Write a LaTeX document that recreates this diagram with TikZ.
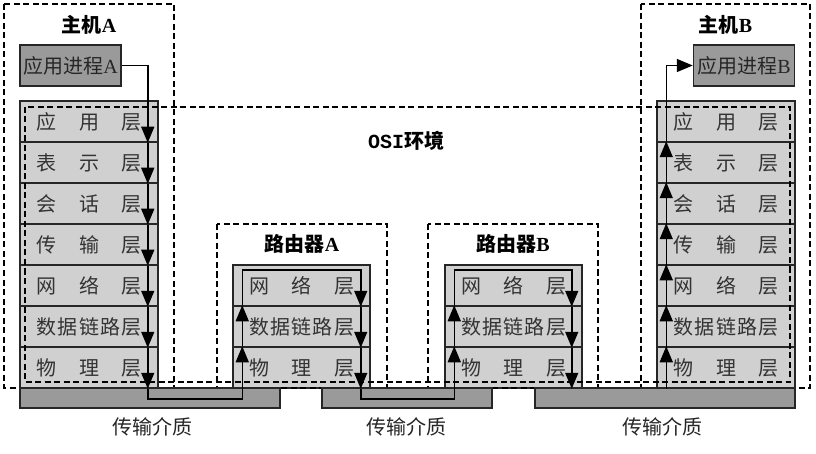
\documentclass[tikz,border=0pt]{standalone}
\usepackage{fontspec}
\setmainfont{Liberation Serif}
\newfontfamily\cjk{Noto Sans CJK SC}
\newfontfamily\osimono{Liberation Mono}
\usetikzlibrary{arrows.meta,calc}
\definecolor{lgray}{HTML}{D0D0D0}
\definecolor{dgray}{HTML}{9A9A9A}
\newcommand\spreadthree[3]{\makebox[105pt][s]{#1\hfill#2\hfill#3}}
\newcommand\spreadfive[5]{\makebox[105pt][s]{#1\hfill#2\hfill#3\hfill#4\hfill#5}}
\tikzset{
  layer/.style={draw=black!85, line width=1.5pt, fill=lgray, minimum width=138pt, minimum height=41pt, inner sep=0pt, font=\cjk\fontsize{20}{20}\selectfont, text=black!80},
  rlayer/.style={layer, minimum width=137pt},
  proc/.style={draw=black!85, line width=1.5pt, fill=dgray, minimum width=101pt, minimum height=41pt, inner sep=0pt, font=\fontsize{20}{20}\selectfont, text=black!85},
  medium/.style={draw=black!85, line width=1.5pt, fill=dgray, minimum height=20pt, inner sep=0pt},
  dbox/.style={draw=black, line width=1.4pt, dash pattern=on 6pt off 3.5pt},
  flow/.style={draw=black, line width=1.5pt, >={Triangle[length=16pt,width=13pt]}, ->}
}
\begin{document}
\begin{tikzpicture}[x=1pt,y=-1pt,
  title/.style={font=\bfseries\fontsize{20}{20}\selectfont},
  lbl/.style={font=\cjk\fontsize{20}{20}\selectfont, text=black!85}]
\useasboundingbox[fill=white] (0,0) rectangle (816,454);

% host A
\node[proc] (pa) at (70.5,65.5) {{\cjk 应用进程}A};
\node[layer] (a1) at (89,121.5) {\spreadthree{应}{用}{层}};
\node[layer] (a2) at (89,162.5) {\spreadthree{表}{示}{层}};
\node[layer] (a3) at (89,203.5) {\spreadthree{会}{话}{层}};
\node[layer] (a4) at (89,244.5) {\spreadthree{传}{输}{层}};
\node[layer] (a5) at (89,285.5) {\spreadthree{网}{络}{层}};
\node[layer] (a6) at (89,326.5) {\spreadfive{数}{据}{链}{路}{层}};
\node[layer] (a7) at (89,367.5) {\spreadthree{物}{理}{层}};

% host B
\node[proc] (pb) at (744,65.5) {{\cjk 应用进程}B};
\node[layer] (b1) at (726,121.5) {\spreadthree{应}{用}{层}};
\node[layer] (b2) at (726,162.5) {\spreadthree{表}{示}{层}};
\node[layer] (b3) at (726,203.5) {\spreadthree{会}{话}{层}};
\node[layer] (b4) at (726,244.5) {\spreadthree{传}{输}{层}};
\node[layer] (b5) at (726,285.5) {\spreadthree{网}{络}{层}};
\node[layer] (b6) at (726,326.5) {\spreadfive{数}{据}{链}{路}{层}};
\node[layer] (b7) at (726,367.5) {\spreadthree{物}{理}{层}};

% router A
\node[rlayer] (ra1) at (301.5,285.5) {\spreadthree{网}{络}{层}};
\node[rlayer] (ra2) at (301.5,326.5) {\spreadfive{数}{据}{链}{路}{层}};
\node[rlayer] (ra3) at (301.5,367.5) {\spreadthree{物}{理}{层}};

% router B
\node[rlayer] (rb1) at (513.5,285.5) {\spreadthree{网}{络}{层}};
\node[rlayer] (rb2) at (513.5,326.5) {\spreadfive{数}{据}{链}{路}{层}};
\node[rlayer] (rb3) at (513.5,367.5) {\spreadthree{物}{理}{层}};

% dashed frames
\draw[dbox] (4,4) rectangle (174,388);
\draw[dbox] (641,4) rectangle (810,388);
\draw[dbox] (217,224) rectangle (387,388);
\draw[dbox] (428,224) rectangle (598,388);
\draw[dbox] (25,107) rectangle (790,382);

% titles
\node[title] (tha) at (89,25) {{\cjk 主机}A};
\node[title] (thb) at (725.5,25) {{\cjk 主机}B};
\node[title] (tra) at (302,244) {{\cjk 路由器}A};
\node[title] (trb) at (513,244) {{\cjk 路由器}B};
\node[font=\bfseries\fontsize{20}{20}\selectfont] (osi) at (406,141) {{\osimono OSI}{\cjk 环境}};

% media
\node[medium, minimum width=260pt] (m1) at (150,398) {};
\node[medium, minimum width=170pt] (m2) at (407,398) {};
\node[medium, minimum width=260pt] (m3) at (665,398) {};
\node[lbl] (l1) at (152,427) {传输介质};
\node[lbl] (l2) at (406,427) {传输介质};
\node[lbl] (l3) at (662,427) {传输介质};

% flow host A down
\draw[flow] (pa.east) -| ($(a1.south east)+(-11,0)$);
\foreach \i/\j in {1/2,2/3,3/4,4/5,5/6,6/7}
  \draw[flow] ($(a\i.south east)+(-11,0)$) -- ($(a\j.south east)+(-11,0)$);
% medium 1 to router A
\draw[flow] ($(a7.south east)+(-11,0)$) -- ++(0,10) -| ($(ra3.north west)+(10,0)$);
\draw[flow] ($(ra3.north west)+(10,0)$) -- ($(ra2.north west)+(10,0)$);
\draw[flow] ($(ra2.north west)+(10,0)$) -- ($(ra1.north west)+(10,6)$) -| ($(ra1.south east)+(-10,0)$);
\draw[flow] ($(ra1.south east)+(-10,0)$) -- ($(ra2.south east)+(-10,0)$);
\draw[flow] ($(ra2.south east)+(-10,0)$) -- ($(ra3.south east)+(-10,0)$);
% medium 2 to router B
\draw[flow] ($(ra3.south east)+(-10,0)$) -- ++(0,10) -| ($(rb3.north west)+(10,0)$);
\draw[flow] ($(rb3.north west)+(10,0)$) -- ($(rb2.north west)+(10,0)$);
\draw[flow] ($(rb2.north west)+(10,0)$) -- ($(rb1.north west)+(10,6)$) -| ($(rb1.south east)+(-11,0)$);
\draw[flow] ($(rb1.south east)+(-11,0)$) -- ($(rb2.south east)+(-11,0)$);
\draw[flow] ($(rb2.south east)+(-11,0)$) -- ($(rb3.south east)+(-11,0)$);
% host B up
\foreach \i in {7,6,5,4,3,2}
  \draw[flow] ($(b\i.south west)+(10,0)$) -- ($(b\i.north west)+(10,0)$);
\draw[flow] ($(b2.north west)+(10,0)$) |- (pb.west);
\end{tikzpicture}
\end{document}
